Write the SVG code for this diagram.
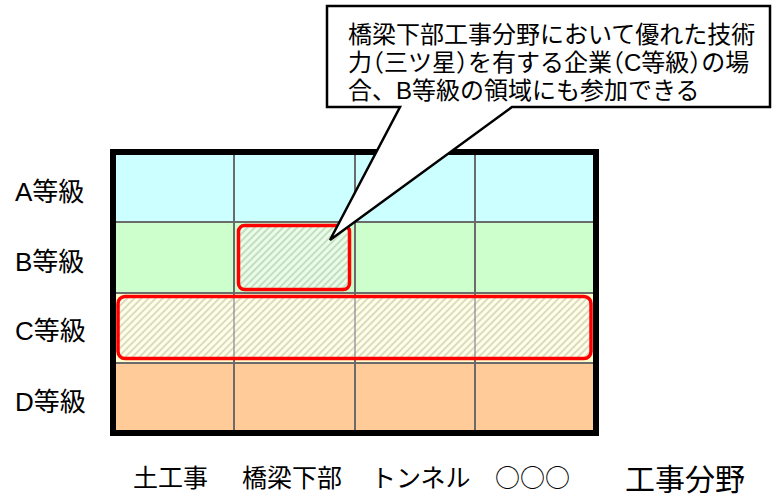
<svg xmlns="http://www.w3.org/2000/svg" width="772" height="499" viewBox="0 0 772 499">
<style>
.lbl{font-family:"Liberation Sans","Noto Sans CJK JP",sans-serif;font-size:26px;fill:#000}
.cat{font-family:"Noto Sans CJK JP",sans-serif;font-size:25px;fill:#000}
.note{font-family:"Liberation Sans","Noto Sans CJK JP",sans-serif;font-size:24px;fill:#000}
.half{font-feature-settings:"halt"}
.grid{stroke:#6b6b6b;stroke-width:2;fill:none}
.hl{stroke:#ff0000;stroke-width:3.5;fill:url(#hatch)}
</style>
<defs>
<pattern id="hatch" patternUnits="userSpaceOnUse" width="5" height="5" patternTransform="rotate(45)">
<rect width="5" height="5" fill="#ffffff" fill-opacity="0.5"/>
<line x1="1" y1="0" x2="1" y2="5" stroke="#8a8a7a" stroke-opacity="0.3" stroke-width="2"/>
</pattern>
</defs>
<g id="rows">
<rect x="113" y="152" width="483" height="70" fill="#ccffff"/>
<rect x="113" y="222" width="483" height="71" fill="#ccffcc"/>
<rect x="113" y="293" width="483" height="70" fill="#ffffcc"/>
<rect x="113" y="363" width="483" height="70" fill="#ffcc99"/>
</g>
<g id="grid">
<line class="grid" x1="234" y1="152" x2="234" y2="433"/>
<line class="grid" x1="355" y1="152" x2="355" y2="433"/>
<line class="grid" x1="475" y1="152" x2="475" y2="433"/>
<line class="grid" x1="113" y1="222" x2="596" y2="222"/>
<line class="grid" x1="113" y1="293" x2="596" y2="293"/>
<line class="grid" x1="113" y1="363" x2="596" y2="363"/>
</g>
<g id="highlight-b">
<rect class="hl" x="238.5" y="225.5" width="111" height="64" rx="6"/>
</g>
<g id="highlight-c">
<rect class="hl" x="118" y="296.5" width="473" height="62" rx="7"/>
</g>
<g id="frame">
<rect x="113" y="152" width="483" height="281" fill="none" stroke="#000" stroke-width="6"/>
</g>
<g id="row-labels">
<text class="lbl" x="15" y="201">A等級</text>
<text class="lbl" x="15" y="271">B等級</text>
<text class="lbl" x="15" y="340">C等級</text>
<text class="lbl" x="15" y="411">D等級</text>
</g>
<g id="col-labels">
<text class="cat" x="133" y="487">土工事</text>
<text class="cat" x="242" y="487">橋梁下部</text>
<text class="cat" x="371" y="487">トンネル</text>
<text class="cat" x="495" y="487">○○○</text>
<text class="cat" x="625" y="490" style="font-size:30px">工事分野</text>
</g>
<g id="callout">
<path d="M327,6 H770 V107 H512 L330,240 L400,107 H327 Z" fill="#fff" stroke="#000" stroke-width="2.5" stroke-linejoin="miter"/>
<text class="note" x="348" y="43">橋梁下部工事分野において優れた技術</text>
<text class="note half" x="348" y="71">力（三ツ星）を有する企業（C等級）の場</text>
<text class="note" x="348" y="99">合、B等級の領域にも参加できる</text>
</g>
</svg>
